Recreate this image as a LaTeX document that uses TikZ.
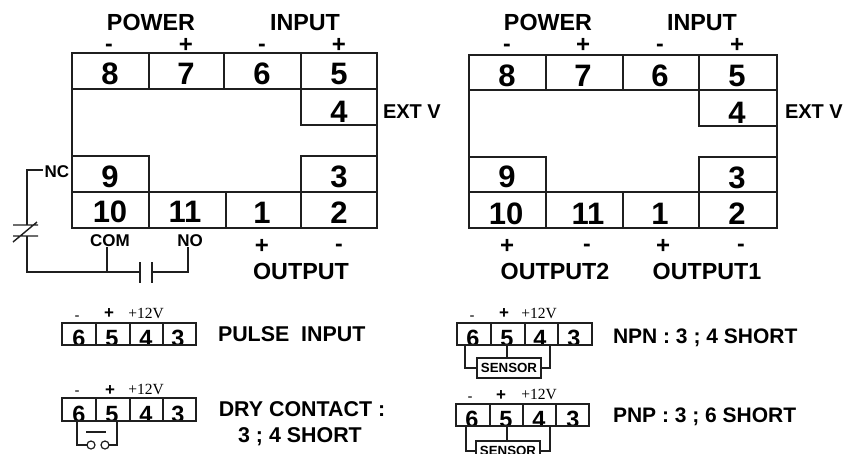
\documentclass[tikz,border=0pt]{standalone}
\usepackage{fontspec}
\setmainfont{Liberation Sans}
\newfontfamily\serifx{Liberation Serif}
\newcommand{\fs}[1]{\fontsize{#1}{#1}\selectfont}
\tikzset{
  x=1pt,y=-1pt,
  every node/.style={inner sep=0pt,outer sep=0pt,text=black},
  head/.style={font=\fs{23.3}\bfseries,anchor=base},
  sign/.style={font=\fs{24}\bfseries},
  minus/.style={font=\fs{23}\bfseries},
  digit/.style={font=\fs{31}\bfseries},
  sdigit/.style={font=\fs{23.5}\bfseries,anchor=base},
  ext/.style={font=\fs{20}\bfseries,anchor=west},
  tiny/.style={font=\fs{17}\bfseries},
  desc/.style={font=\fs{21.4}\bfseries},
  volt/.style={font=\serifx\fs{15.5}},
  wire/.style={draw=black!88,line width=1.4pt},
  box/.style={draw=black!88,line width=2pt,line cap=rect},
  sbox/.style={draw=black!88,line width=1.7pt,line cap=rect},
  sensorbox/.style={draw=black!88,line width=1.5pt,fill=white,minimum width=64pt,minimum height=20pt,font=\fs{13.3}\bfseries},
}
\begin{document}
\begin{tikzpicture}
\useasboundingbox (0,0) rectangle (856,453);
\clip (0,0) rectangle (856,453);
% ---- left terminal block
\draw[box] (72,53) rectangle (377,228);
\draw[box] (72,89) -- (377,89) (72,192) -- (377,192);
\draw[box] (149,53) -- (149,89) (224,53) -- (224,89) (301,53) -- (301,125) -- (377,125);
\draw[box] (72,156) -- (149,156) -- (149,228) (226,192) -- (226,228) (301,228) -- (301,156) -- (377,156);
\node[head] (lpower) at (151,30) {POWER};
\node[head] (linput) at (305,30) {INPUT};
\node[minus] (lm1) at (109,48) {-};
\node[sign] (lp1) at (186,45) {+};
\node[minus] (lm2) at (262,48) {-};
\node[sign] (lp2) at (339,45) {+};
\node[digit] (l8) at (110,74) {8};
\node[digit] (l7) at (186,74) {7};
\node[digit] (l6) at (262,74) {6};
\node[digit] (l5) at (339,74) {5};
\node[digit] (l4) at (339,112) {4};
\node[digit] (l9) at (110,177) {9};
\node[digit] (l3) at (339,177) {3};
\node[digit] (l10) at (110,212) {10};
\node[digit] (l11) at (185,212) {11};
\node[digit] (l1) at (262,213) {1};
\node[digit] (l2) at (339,213) {2};
\node[ext] (lext) at (383,112) {EXT V};
\node[tiny] (nc) at (57,172) {NC};
\node[tiny] (com) at (110,241) {COM};
\node[tiny] (no) at (190,241) {NO};
\node[sign] (lp3) at (262,246) {+};
\node[minus] (lm3) at (339,248) {-};
\node[head] (lout) at (301,279) {OUTPUT};
% relay wiring
\coordinate (sw1) at (27,225);
\coordinate (sw2) at (27,236);
\coordinate (corner) at (27,272);
\coordinate (capa) at (140,272);
\coordinate (capb) at (152,272);
\draw[wire] (nc.west) ++(-2,-2) -| (sw1);
\draw[wire] (13,225) -- (38,225) (13,236) -- (38,236) (13,242) -- (37,222);
\draw[wire] (sw2) -- (corner) -- (capa);
\draw[wire] (capa) ++(0,-10) -- ++(0,21);
\draw[wire] (capb) ++(0,-10) -- ++(0,21);
\draw[wire] (com.south) ++(-3,0) -- (107,272);
\draw[wire] (capb) -| (no.south -| 188,249);
% ---- right terminal block
\draw[box] (469,55) rectangle (777,228);
\draw[box] (469,90) -- (777,90) (469,192) -- (777,192);
\draw[box] (546,55) -- (546,90) (623,55) -- (623,90) (699,55) -- (699,126) -- (777,126);
\draw[box] (469,157) -- (546,157) -- (546,228) (623,192) -- (623,228) (699,228) -- (699,157) -- (777,157);
\node[head] (rpower) at (548,30) {POWER};
\node[head] (rinput) at (702,30) {INPUT};
\node[minus] (rm1) at (507,48) {-};
\node[sign] (rp1) at (583,45) {+};
\node[minus] (rm2) at (660,48) {-};
\node[sign] (rp2) at (737,45) {+};
\node[digit] (r8) at (507,76) {8};
\node[digit] (r7) at (583,76) {7};
\node[digit] (r6) at (660,76) {6};
\node[digit] (r5) at (737,76) {5};
\node[digit] (r4) at (737,113) {4};
\node[digit] (r9) at (507,177) {9};
\node[digit] (r3) at (737,178) {3};
\node[digit] (r10) at (506,214) {10};
\node[digit] (r11) at (588,214) {11};
\node[digit] (r1) at (660,214) {1};
\node[digit] (r2) at (737,214) {2};
\node[ext] (rext) at (785,112) {EXT V};
\node[sign] (rp3) at (507,246) {+};
\node[minus] (rm3) at (587,248) {-};
\node[sign] (rp4) at (663,246) {+};
\node[minus] (rm4) at (741,248) {-};
\node[head] (rout2) at (555,279) {OUTPUT2};
\node[head] (rout1) at (707,279) {OUTPUT1};
% ---- pulse input
\begin{scope}
\clip (55,323) rectangle (200,345);
\node[sdigit] (a6) at (79,346.5) {6};
\node[sdigit] (a5) at (112,346.5) {5};
\node[sdigit] (a4) at (146,346.5) {4};
\node[sdigit] (a3) at (178,346.5) {3};
\end{scope}
\draw[sbox] (62,323) rectangle (196,345) (96,323) -- (96,345) (130,323) -- (130,345) (163,323) -- (163,345);
\node[minus,font=\fs{15}] (am) at (77,318) {-};
\node[sign,font=\fs{17}\bfseries] (ap) at (109,314) {+};
\node[volt] (av) at (146,313) {+12V};
\node[desc,anchor=west] (pulse) at (218,334) {PULSE\ \ INPUT};
% ---- dry contact
\begin{scope}
\clip (55,398) rectangle (200,421);
\node[sdigit] (b6) at (79,422.5) {6};
\node[sdigit] (b5) at (112,422.5) {5};
\node[sdigit] (b4) at (146,422.5) {4};
\node[sdigit] (b3) at (178,422.5) {3};
\end{scope}
\draw[sbox] (62,398) rectangle (196,421) (96,398) -- (96,421) (130,398) -- (130,421) (163,398) -- (163,421);
\node[minus,font=\fs{15}] (bm) at (77,393) {-};
\node[sign,font=\fs{17}\bfseries] (bp) at (110,391) {+};
\node[volt] (bv) at (146,389) {+12V};
\node[desc] (dry1) at (302,409) {DRY CONTACT :};
\node[desc] (dry2) at (300,437) {3 ; 4 SHORT};
\node[draw=black!88,line width=1.2pt,circle,minimum size=8pt] (c1) at (91,445) {};
\node[draw=black!88,line width=1.2pt,circle,minimum size=8pt] (c2) at (105,445) {};
\coordinate (bl) at (77,421);
\coordinate (br) at (117,421);
\draw[wire] (bl) |- (c1.west);
\draw[wire] (br) |- (c2.east);
\draw[wire] (86,432) -- (106,432);
% ---- NPN
\begin{scope}
\clip (450,323) rectangle (597,345);
\node[sdigit] (n6) at (473,346.5) {6};
\node[sdigit] (n5) at (507,346.5) {5};
\node[sdigit] (n4) at (540,346.5) {4};
\node[sdigit] (n3) at (574,346.5) {3};
\end{scope}
\draw[sbox] (457,323) rectangle (592,345) (491,323) -- (491,345) (525,323) -- (525,345) (558,323) -- (558,345);
\node[minus,font=\fs{15}] (nm) at (472,318) {-};
\node[sign,font=\fs{17}\bfseries] (np) at (504,314) {+};
\node[volt] (nv) at (539,313) {+12V};
\node[font=\fs{21}\bfseries,anchor=west] (npn) at (613,338) {NPN : 3 ; 4 SHORT};
\node[sensorbox] (sn) at (509,368) {SENSOR};
\coordinate (nl) at (465,345);
\coordinate (nc2) at (507,345);
\coordinate (nr) at (550,345);
\draw[wire] (nl) |- (sn.west);
\draw[wire] (nc2) -- (nc2 |- sn.north);
\draw[wire] (nr) |- (sn.east);
% ---- PNP
\begin{scope}
\clip (450,404) rectangle (594,426);
\node[sdigit] (p6) at (472,427.5) {6};
\node[sdigit] (p5) at (506,427.5) {5};
\node[sdigit] (p4) at (539,427.5) {4};
\node[sdigit] (p3) at (573,427.5) {3};
\end{scope}
\draw[sbox] (456,404) rectangle (589,426) (490,404) -- (490,426) (523,404) -- (523,426) (556,404) -- (556,426);
\node[minus,font=\fs{15}] (pm) at (470,399) {-};
\node[sign,font=\fs{17}\bfseries] (pp) at (501,396) {+};
\node[volt] (pv) at (539,394) {+12V};
\node[font=\fs{21}\bfseries,anchor=west] (pnp) at (613,417) {PNP : 3 ; 6 SHORT};
\node[sensorbox] (sp) at (508,451) {SENSOR};
\coordinate (pl) at (466,426);
\coordinate (pc) at (507,426);
\coordinate (pr) at (550,426);
\draw[wire] (pl) |- (sp.west);
\draw[wire] (pc) -- (pc |- sp.north);
\draw[wire] (pr) |- (sp.east);
\end{tikzpicture}
\end{document}
